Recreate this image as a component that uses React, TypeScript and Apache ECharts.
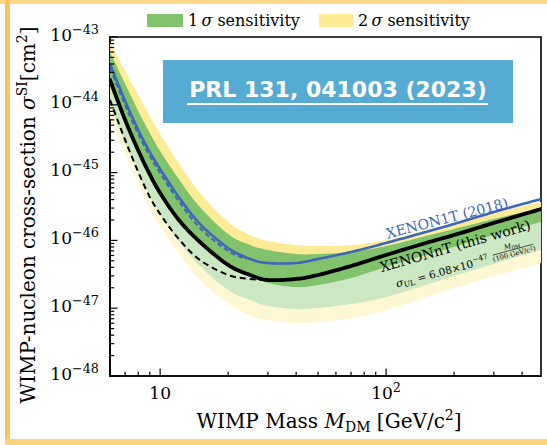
import React, { useEffect, useRef } from "react";
import * as echarts from "echarts";

// ---- data (mass in GeV/c^2, cross-section in cm^2) ----
const masses = [6, 7, 8, 9, 10, 12, 15, 20, 25, 30, 40, 50, 70, 100, 150, 200, 300, 485];
const sens2Upper = [8.4e-44, 3.15e-44, 1.4e-44, 6.84e-45, 3.71e-45, 1.43e-45, 5.0e-46, 1.87e-46, 1.2e-46, 9.8e-47, 8.55e-47, 8.26e-47, 8.55e-47, 1.01e-46, 1.42e-46, 1.81e-46, 2.54e-46, 3.68e-46];
const sens1Upper = [6.0e-44, 2.03e-44, 8.1e-45, 3.84e-45, 2.08e-45, 8.32e-46, 3.11e-46, 1.24e-46, 8.55e-47, 7.22e-47, 6.3e-47, 6.3e-47, 6.75e-47, 8.26e-47, 1.16e-46, 1.47e-46, 2.07e-46, 3.01e-46];
const powerThreshold = [2.32e-44, 5.97e-45, 2.12e-45, 9.38e-46, 5.0e-46, 2.07e-46, 9.47e-47, 4.34e-47, 3.09e-47, 2.35e-47, 2.05e-47, 2.2e-47, 2.79e-47, 4.05e-47, 6.09e-47, 8.0e-47, 1.2e-46, 1.87e-46];
const sens1Lower = [1.06e-44, 2.73e-45, 1.02e-45, 4.52e-46, 2.45e-46, 1.01e-46, 4.19e-47, 1.86e-47, 1.32e-47, 1.08e-47, 9.7e-48, 1.01e-47, 1.15e-47, 1.46e-47, 2.2e-47, 2.99e-47, 4.49e-47, 7.22e-47];
const sens2Lower = [6.38e-45, 1.95e-45, 7.03e-46, 3.01e-46, 1.63e-46, 6.75e-47, 2.61e-47, 1.19e-47, 7.9e-48, 6.7e-48, 6.05e-48, 6.26e-48, 7.17e-48, 9.4e-48, 1.46e-47, 1.99e-47, 2.99e-47, 4.64e-47];
const limitNT = [2.32e-44, 5.97e-45, 2.12e-45, 9.38e-46, 5.0e-46, 2.07e-46, 9.47e-47, 4.34e-47, 3.09e-47, 2.61e-47, 2.7e-47, 3.09e-47, 4.19e-47, 6.09e-47, 9.16e-47, 1.2e-46, 1.81e-46, 2.9e-46];
const xenon1T = [4.0e-44, 1.14e-44, 4.25e-45, 2.01e-45, 1.13e-45, 4.52e-46, 1.75e-46, 7.73e-47, 5.32e-47, 4.64e-47, 4.64e-47, 5.32e-47, 6.75e-47, 9.16e-47, 1.33e-46, 1.75e-46, 2.62e-46, 4.08e-46];

const unconstrainedMasses = [6, 7, 8, 9, 10, 12, 15, 20, 25, 30];
const unconstrainedNT = [1.18e-44, 3.03e-45, 1.02e-45, 4.37e-46, 2.45e-46, 1.08e-46, 5.14e-47, 3.09e-47, 2.7e-47, 2.61e-47];

const x1tDashMasses = [6, 7, 8, 9, 10, 12, 15, 20, 24];
const x1tDash = [3.49e-44, 9.9e-45, 3.71e-45, 1.76e-45, 9.86e-46, 3.94e-46, 1.52e-46, 6.98e-47, 5.32e-47];

const xMajorTicks = [10, 100];
const xMinorTicks = [7, 8, 9, 20, 30, 40, 50, 60, 70, 80, 90, 200, 300, 400];
const yDecades = [-48, -47, -46, -45, -44, -43];
const yMinorMult = [2, 3, 4, 5, 6, 7, 8, 9];

const X_MIN = 6;
const X_MAX = 485;
const Y_MIN_EXP = -48;
const Y_MAX_EXP = -43;

const SERIF = "DejaVu Serif";
const C_2SIG = "#FDEB95";
const C_1SIG = "#80C36C";
const C_BLUE = "#3E67B9";

const lg = (v: number) => Math.log10(v);

function catmull(pts: number[][], steps = 12): number[][] {
  const out: number[][] = [];
  const n = pts.length;
  for (let i = 0; i < n - 1; i++) {
    const p0 = pts[Math.max(i - 1, 0)];
    const p1 = pts[i];
    const p2 = pts[i + 1];
    const p3 = pts[Math.min(i + 2, n - 1)];
    for (let s = 0; s < steps; s++) {
      const t = s / steps;
      const t2 = t * t;
      const t3 = t2 * t;
      const f = (a: number, b: number, c: number, d: number) =>
        0.5 * (2 * b + (-a + c) * t + (2 * a - 5 * b + 4 * c - d) * t2 + (-a + 3 * b - 3 * c + d) * t3);
      out.push([f(p0[0], p1[0], p2[0], p3[0]), f(p0[1], p1[1], p2[1], p3[1])]);
    }
  }
  out.push(pts[n - 1]);
  return out;
}

function bandSeries(name: string, xs: number[], upper: number[], lower: number[], fill: string, opacity: number, z: number) {
  return {
    name,
    type: "custom",
    coordinateSystem: "cartesian2d",
    clip: true,
    silent: true,
    z,
    data: [[xs[0], lg(upper[0])]],
    renderItem: (_p: any, api: any) => {
      const up = xs.map((m, i) => api.coord([m, lg(upper[i])]));
      const lo = xs.map((m, i) => api.coord([m, lg(lower[i])]));
      const pts = catmull(up).concat(catmull(lo).reverse());
      return { type: "polygon", shape: { points: pts }, style: { fill, opacity } };
    },
  };
}

function curveSeries(name: string, xs: number[], ys: number[], stroke: string, lineWidth: number, z: number, dash?: number[]) {
  return {
    name,
    type: "custom",
    coordinateSystem: "cartesian2d",
    clip: true,
    silent: true,
    z,
    data: [[xs[0], lg(ys[0])]],
    renderItem: (_p: any, api: any) => {
      const pts = catmull(xs.map((m, i) => api.coord([m, lg(ys[i])])));
      return {
        type: "polyline",
        shape: { points: pts },
        style: { stroke, lineWidth, fill: null, lineDash: dash || null, lineJoin: "round", lineCap: dash ? "butt" : "round" },
      };
    },
  };
}

function isPow10(v: number) {
  const l = Math.log10(v);
  return Math.abs(l - Math.round(l)) < 1e-6;
}

const tickRich = {
  b: { fontFamily: SERIF, fontSize: 17, lineHeight: 24, color: "#000" },
  e: { fontFamily: SERIF, fontSize: 12.8, lineHeight: 14, color: "#000", verticalAlign: "top" },
};

const titleRich = {
  r: { fontFamily: SERIF, fontSize: 20, lineHeight: 26, color: "#000" },
  i: { fontFamily: SERIF, fontSize: 20, lineHeight: 26, color: "#000", fontStyle: "italic" },
  sup: { fontFamily: SERIF, fontSize: 14, lineHeight: 16, color: "#000", verticalAlign: "top" },
  sub: { fontFamily: SERIF, fontSize: 14, lineHeight: 16, color: "#000", verticalAlign: "bottom" },
};

const legendRich = {
  r: { fontFamily: SERIF, fontSize: 16, lineHeight: 20, color: "#000" },
  i: { fontFamily: SERIF, fontSize: 16, lineHeight: 20, color: "#000", fontStyle: "italic" },
};

const smallRich = {
  r: { fontFamily: SERIF, fontSize: 10.5, lineHeight: 14, color: "#000" },
  i: { fontFamily: SERIF, fontSize: 11, lineHeight: 14, color: "#000", fontStyle: "italic" },
  sub: { fontFamily: SERIF, fontSize: 7.5, lineHeight: 9, color: "#000", verticalAlign: "bottom" },
  sup: { fontFamily: SERIF, fontSize: 7.5, lineHeight: 9, color: "#000", verticalAlign: "top" },
};

const fracRich = {
  r: { fontFamily: SERIF, fontSize: 6.8, lineHeight: 8, color: "#000" },
  i: { fontFamily: SERIF, fontSize: 6.8, lineHeight: 8, color: "#000", fontStyle: "italic" },
  sub: { fontFamily: SERIF, fontSize: 5, lineHeight: 6, color: "#000", verticalAlign: "bottom" },
  sup: { fontFamily: SERIF, fontSize: 5, lineHeight: 6, color: "#000", verticalAlign: "top" },
};

function buildOption() {
  const tickData: number[][] = [];
  xMajorTicks.forEach((v) => tickData.push([v, Y_MIN_EXP, 0, 1]));
  xMinorTicks.forEach((v) => tickData.push([v, Y_MIN_EXP, 0, 0]));
  yDecades.forEach((d) => {
    tickData.push([X_MIN, d, 1, 1]);
    if (d < Y_MAX_EXP) yMinorMult.forEach((m) => tickData.push([X_MIN, d + lg(m), 1, 0]));
  });

  return {
    animation: false,
    grid: { left: 110, top: 37, right: 6, bottom: 69, show: true, borderColor: "#000", borderWidth: 1.6, backgroundColor: "transparent" },
    xAxis: {
      type: "log",
      logBase: 10,
      min: X_MIN,
      max: X_MAX,
      axisLine: { show: true, lineStyle: { color: "#000", width: 1.6 } },
      axisTick: { show: false },
      minorTick: { show: false },
      splitLine: { show: false },
      axisLabel: {
        margin: 5,
        showMinLabel: false,
        showMaxLabel: false,
        formatter: (v: number) => {
          if (!isPow10(v)) return "";
          const e = Math.round(Math.log10(v));
          return e === 1 ? "{b|10}" : `{b|10}{e|${e}}`;
        },
        rich: tickRich,
      },
    },
    yAxis: {
      type: "value",
      min: Y_MIN_EXP,
      max: Y_MAX_EXP,
      interval: 1,
      axisLine: { show: true, lineStyle: { color: "#000", width: 1.6 } },
      axisTick: { show: false },
      minorTick: { show: false },
      splitLine: { show: false },
      axisLabel: {
        margin: 11,
        padding: [0, 0, 5, 0],
        formatter: (v: number) => `{b|10}{e|\u2212${Math.abs(Math.round(v))}}`,
        rich: tickRich,
      },
    },
    series: [
      bandSeries("2σ sensitivity", masses, sens2Upper, sens2Lower, C_2SIG, 1, 1),
      bandSeries("1σ sensitivity", masses, sens1Upper, sens1Lower, C_1SIG, 1, 2),
      bandSeries("power constraint", masses, powerThreshold, sens2Lower, "#ffffff", 0.6, 3),
      curveSeries("XENON1T sensitivity", x1tDashMasses, x1tDash, C_BLUE, 2, 4, [5, 3]),
      curveSeries("XENON1T (2018)", masses, xenon1T, C_BLUE, 2.6, 5),
      curveSeries("unconstrained", unconstrainedMasses, unconstrainedNT, "#000", 2, 6, [6, 4]),
      curveSeries("XENONnT (this work)", masses, limitNT, "#000", 3.8, 7),
      {
        name: "ticks",
        type: "custom",
        coordinateSystem: "cartesian2d",
        silent: true,
        clip: false,
        z: 10,
        data: tickData,
        renderItem: (_p: any, api: any) => {
          const pt = api.coord([api.value(0), api.value(1)]);
          const len = api.value(3) ? 7.5 : 4.2;
          const shape =
            api.value(2) === 0
              ? { x1: pt[0], y1: pt[1], x2: pt[0], y2: pt[1] - len }
              : { x1: pt[0], y1: pt[1], x2: pt[0] + len, y2: pt[1] };
          return { type: "line", shape, style: { stroke: "#000", lineWidth: 1.2 } };
        },
      },
    ],
    graphic: {
      elements: [
        // frame
        { type: "rect", shape: { x: 0, y: 0, width: 547, height: 4 }, style: { fill: "#FCD98A" }, z: 20 },
        { type: "rect", shape: { x: 5, y: 0, width: 5, height: 445 }, style: { fill: "#F8C45E" }, z: 20 },
        { type: "rect", shape: { x: 5, y: 439, width: 542, height: 6 }, style: { fill: "#FCD27C" }, z: 20 },
        // legend
        { type: "rect", shape: { x: 147, y: 14, width: 36, height: 13 }, style: { fill: C_1SIG }, z: 20 },
        { type: "text", x: 188, y: 20.5, style: { text: "{r|1\u2009}{i|σ}{r| sensitivity}", rich: legendRich, align: "left", verticalAlign: "middle" }, z: 20 },
        { type: "rect", shape: { x: 319, y: 14, width: 34, height: 13 }, style: { fill: C_2SIG }, z: 20 },
        { type: "text", x: 358, y: 20.5, style: { text: "{r|2\u2009}{i|σ}{r| sensitivity}", rich: legendRich, align: "left", verticalAlign: "middle" }, z: 20 },
        // axis titles
        {
          type: "text",
          x: 28,
          y: 215,
          rotation: Math.PI / 2,
          style: { text: "{r|WIMP-nucleon cross-section }{i|σ}{sup|SI}{r|[cm}{sup|2}{r|]}", rich: titleRich, align: "center", verticalAlign: "middle" },
          z: 20,
        },
        {
          type: "text",
          x: 329,
          y: 421,
          style: { text: "{r|WIMP Mass }{i|M}{sub|DM}{r| [GeV/c}{sup|2}{r|]}", rich: titleRich, align: "center", verticalAlign: "middle" },
          z: 20,
        },
        // publication box
        { type: "rect", shape: { x: 163, y: 60, width: 350, height: 63 }, style: { fill: "#56ABD2" }, z: 20 },
        {
          type: "text",
          x: 338,
          y: 89,
          style: { text: "PRL 131, 041003 (2023)", fill: "#fff", font: "bold 22px 'DejaVu Sans'", align: "center", verticalAlign: "middle" },
          z: 21,
        },
        { type: "line", shape: { x1: 187, y1: 104, x2: 488, y2: 104 }, style: { stroke: "#fff", lineWidth: 2 }, z: 21 },
        // curve labels
        {
          type: "text",
          x: 447,
          y: 218,
          rotation: 0.255,
          style: { text: "XENON1T (2018)", fill: C_BLUE, font: `14px '${SERIF}'`, align: "center", verticalAlign: "middle" },
          z: 20,
        },
        {
          type: "text",
          x: 455,
          y: 246,
          rotation: 0.28,
          style: { text: "XENONnT (this work)", fill: "#000", font: `14px '${SERIF}'`, align: "center", verticalAlign: "middle" },
          z: 20,
        },
        {
          type: "group",
          x: 396,
          y: 284,
          rotation: 0.265,
          z: 20,
          children: [
            { type: "text", z: 20, x: 0, y: 0, style: { text: "{i|σ}{sub|UL}{r| = 6.08×10}{sup|\u221247}", rich: smallRich, align: "left", verticalAlign: "middle" } },
            { type: "text", z: 20, x: 122, y: -6.5, style: { text: "{i|M}{sub|DM}", rich: fracRich, align: "center", verticalAlign: "middle" } },
            { type: "line", z: 20, shape: { x1: 101, y1: -2.5, x2: 143, y2: -2.5 }, style: { stroke: "#000", lineWidth: 0.6 } },
            { type: "text", z: 20, x: 122, y: 2, style: { text: "{r|(100 GeV/c}{sup|2}{r|)}", rich: fracRich, align: "center", verticalAlign: "middle" } },
          ],
        },
      ],
    },
  };
}

export default function App() {
  const ref = useRef<HTMLDivElement>(null);
  useEffect(() => {
    if (!ref.current) return;
    const chart = echarts.init(ref.current, null, { renderer: "svg" });
    chart.setOption(buildOption() as any);
    return () => chart.dispose();
  }, []);
  return (
    <div
      ref={ref}
      style={{ position: "absolute", left: 0, top: 0, width: 547, height: 445, background: "#fff" }}
    />
  );
}
